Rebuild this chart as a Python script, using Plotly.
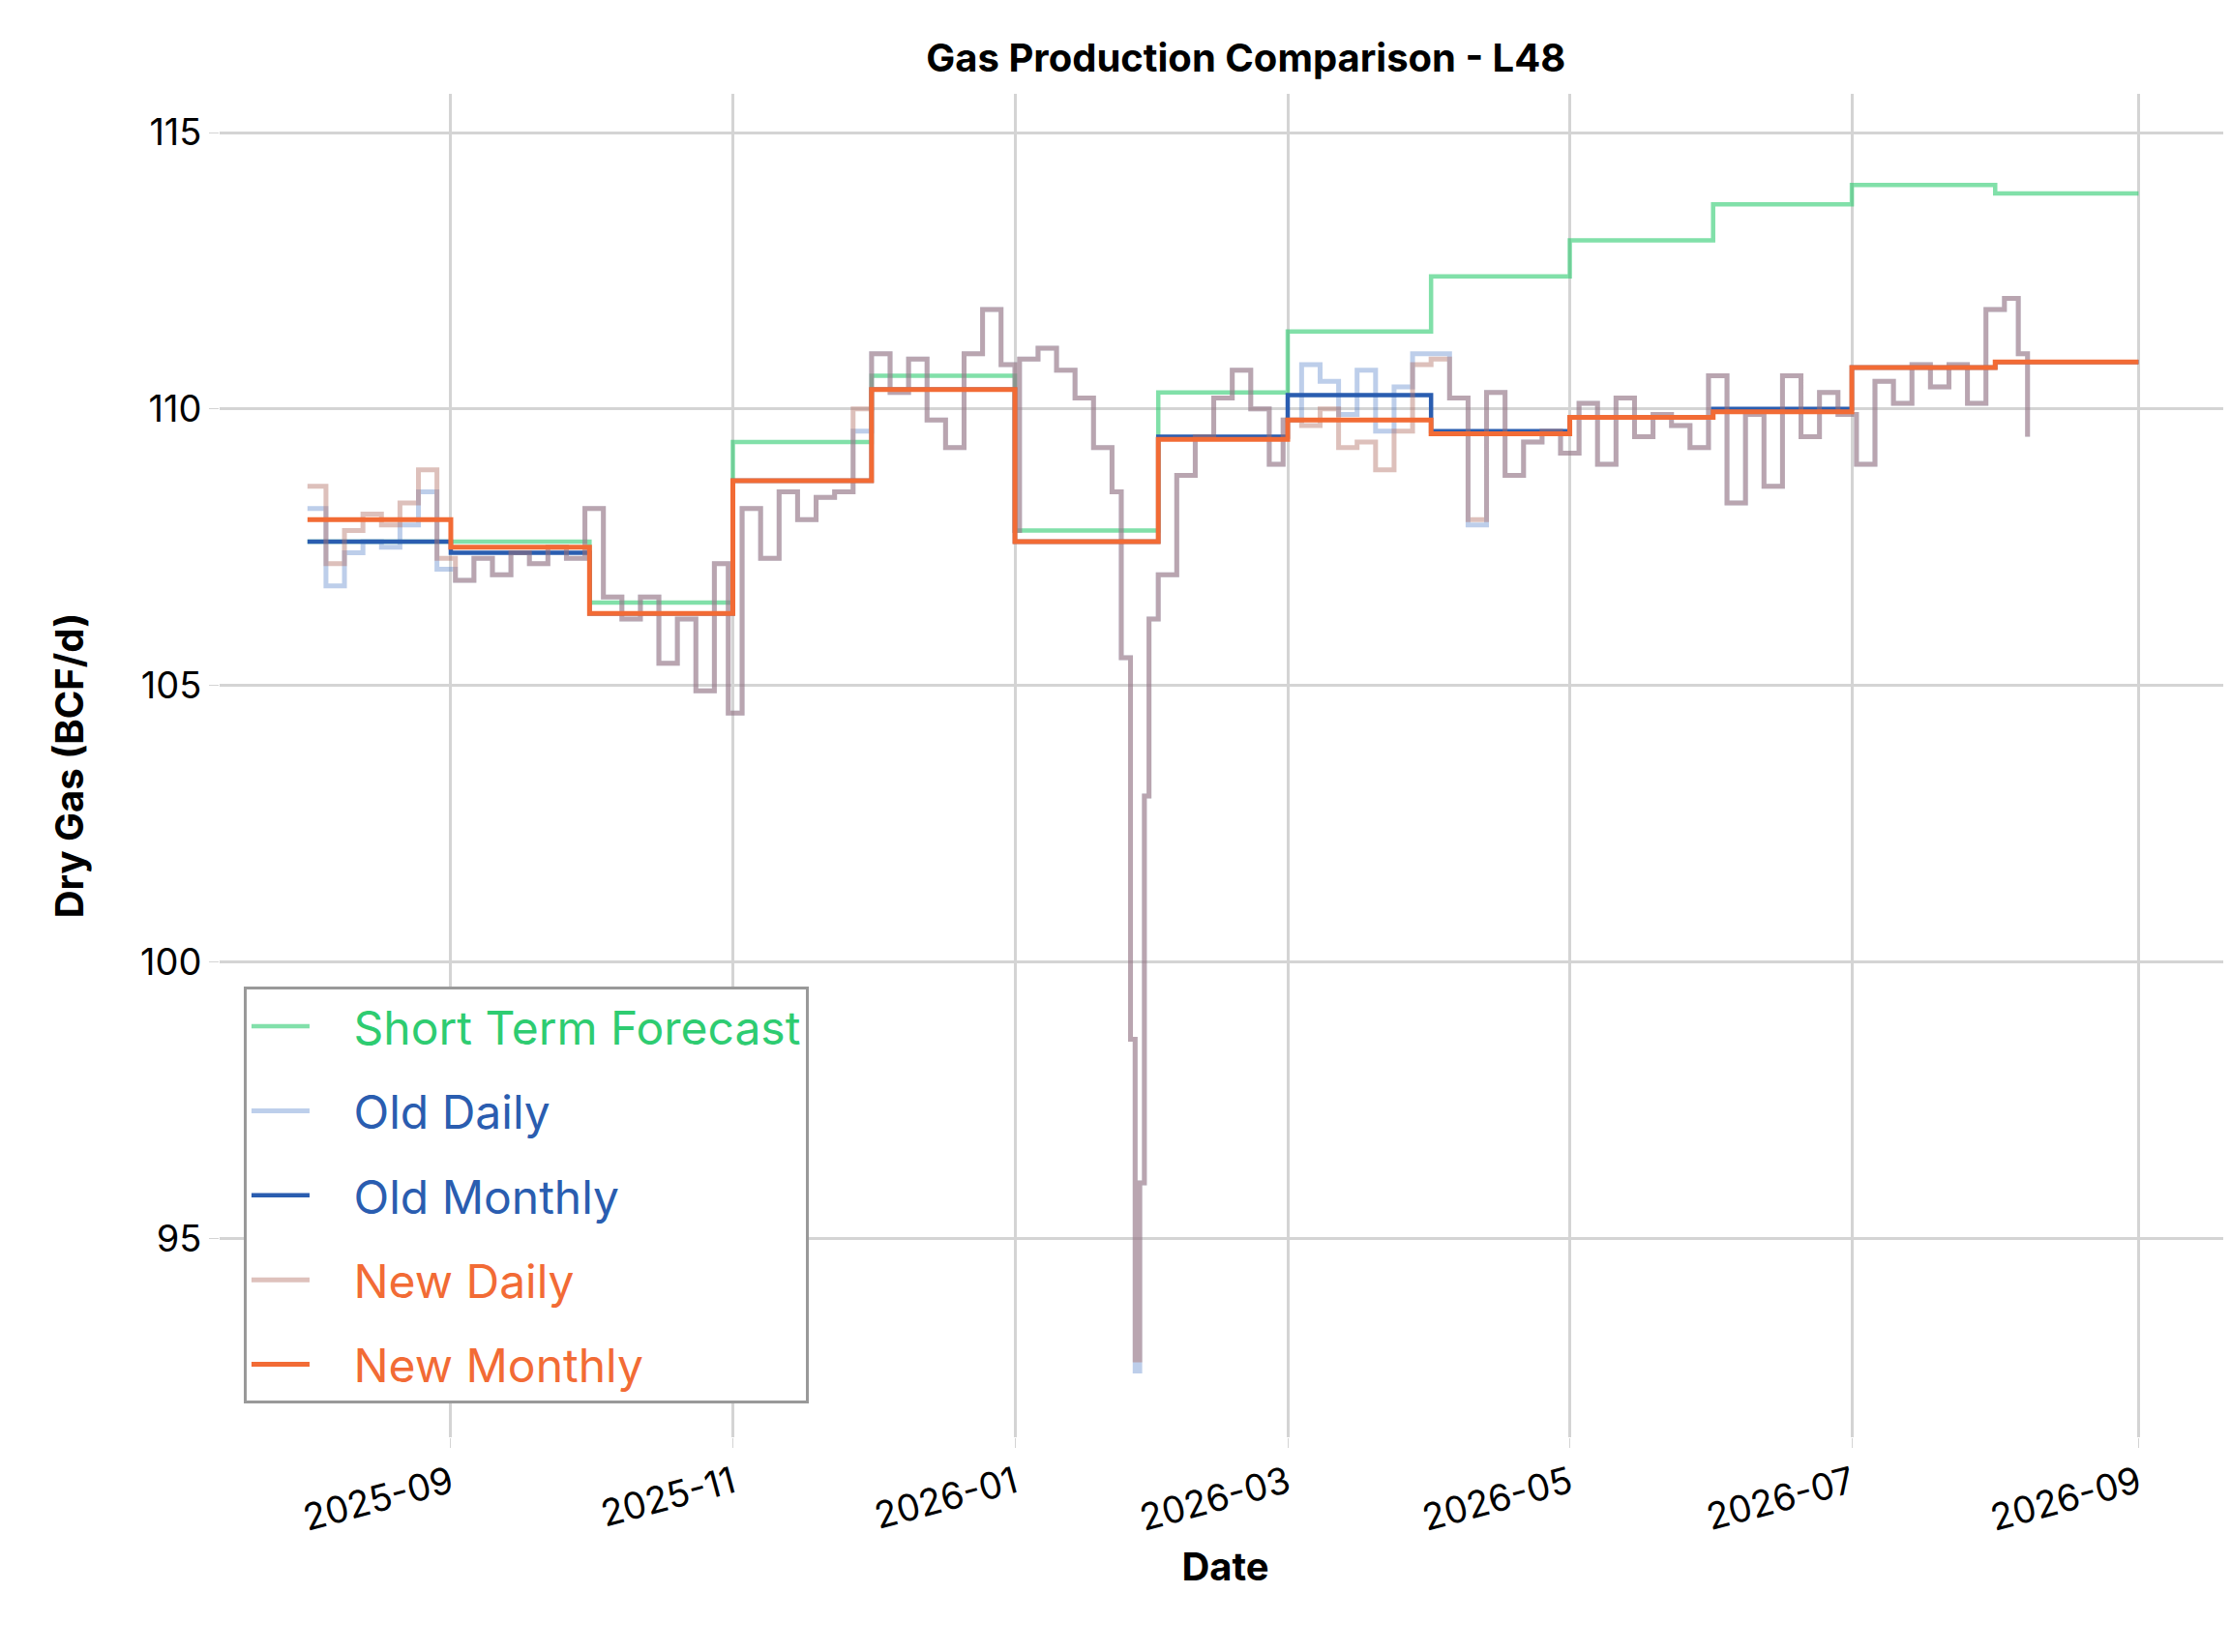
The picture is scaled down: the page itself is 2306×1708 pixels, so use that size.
import plotly.graph_objects as go

# monthly step series (value for each month start, last point repeats to Sep 1)
months = ["2025-08-01", "2025-09-01", "2025-10-01", "2025-11-01", "2025-12-01", "2026-01-01",
          "2026-02-01", "2026-03-01", "2026-04-01", "2026-05-01", "2026-06-01", "2026-07-01",
          "2026-08-01", "2026-09-01"]
stf = [107.6, 107.6, 106.5, 109.4, 110.6, 107.8, 110.3, 111.4, 112.4, 113.05, 113.7, 114.05, 113.9, 113.9]
old_monthly = [107.6, 107.4, 106.3, 108.7, 110.35, 107.6, 109.5, 110.25, 109.6, 109.85, 110.0, 110.75, 110.85, 110.85]
new_monthly = [108.0, 107.5, 106.3, 108.7, 110.35, 107.6, 109.45, 109.8, 109.55, 109.85, 109.95, 110.75, 110.85, 110.85]

# daily series (values at irregular dates, held as steps)
daily_dates = ["2025-08-01", "2025-08-05", "2025-08-09", "2025-08-13", "2025-08-17", "2025-08-21",
               "2025-08-25", "2025-08-29", "2025-09-02", "2025-09-06", "2025-09-10", "2025-09-14",
               "2025-09-18", "2025-09-22", "2025-09-26", "2025-09-30", "2025-10-04", "2025-10-08",
               "2025-10-12", "2025-10-16", "2025-10-20", "2025-10-24", "2025-10-28", "2025-10-31",
               "2025-11-03", "2025-11-07", "2025-11-11", "2025-11-15", "2025-11-19", "2025-11-23",
               "2025-11-27", "2025-12-01", "2025-12-05", "2025-12-09", "2025-12-13", "2025-12-17",
               "2025-12-21", "2025-12-25", "2025-12-29", "2026-01-01", "2026-01-02", "2026-01-06",
               "2026-01-10", "2026-01-14", "2026-01-18", "2026-01-22", "2026-01-24", "2026-01-26",
               "2026-01-27", "2026-01-28", "2026-01-29", "2026-01-30", "2026-02-01", "2026-02-05",
               "2026-02-09", "2026-02-13", "2026-02-17", "2026-02-21", "2026-02-25", "2026-02-28",
               "2026-03-04", "2026-03-08", "2026-03-12", "2026-03-16", "2026-03-20", "2026-03-24",
               "2026-03-28", "2026-04-01", "2026-04-05", "2026-04-09", "2026-04-13", "2026-04-17",
               "2026-04-21", "2026-04-25", "2026-04-29", "2026-05-03", "2026-05-07", "2026-05-11",
               "2026-05-15", "2026-05-19", "2026-05-23", "2026-05-27", "2026-05-31", "2026-06-04",
               "2026-06-08", "2026-06-12", "2026-06-16", "2026-06-20", "2026-06-24", "2026-06-28",
               "2026-07-02", "2026-07-06", "2026-07-10", "2026-07-14", "2026-07-18", "2026-07-22",
               "2026-07-26", "2026-07-30", "2026-08-03", "2026-08-06", "2026-08-08"]
new_daily = [108.6, 107.2, 107.8, 108.1, 107.9, 108.3, 108.9, 107.3, 106.9, 107.3, 107.0, 107.4,
             107.2, 107.5, 107.3, 108.2, 106.6, 106.2, 106.6, 105.4, 106.2, 104.9, 107.2, 104.5,
             108.2, 107.3, 108.5, 108.0, 108.4, 108.5, 110.0, 111.0, 110.3, 110.9, 109.8, 109.3,
             111.0, 111.8, 110.8, 107.8, 110.9, 111.1, 110.7, 110.2, 109.3, 108.5, 105.5, 98.6,
             92.8, 96.0, 103.0, 106.2, 107.0, 108.8, 109.5, 110.2, 110.7, 110.0, 109.0, 109.8,
             109.7, 110.0, 109.3, 109.4, 108.9, 109.6, 110.8, 110.9, 110.2, 108.0, 110.3, 108.8,
             109.4, 109.6, 109.2, 110.1, 109.0, 110.2, 109.5, 109.9, 109.7, 109.3, 110.6, 108.3,
             109.9, 108.6, 110.6, 109.5, 110.3, 109.9, 109.0, 110.5, 110.1, 110.8, 110.4, 110.8,
             110.1, 111.8, 112.0, 111.0, 109.5]
old_daily = [108.2, 106.8, 107.4, 107.6, 107.5, 107.9, 108.5, 107.1, 106.9, 107.3, 107.0, 107.4,
             107.2, 107.5, 107.3, 108.2, 106.6, 106.2, 106.6, 105.4, 106.2, 104.9, 107.2, 104.5,
             108.2, 107.3, 108.5, 108.0, 108.4, 108.5, 109.6, 111.0, 110.3, 110.9, 109.8, 109.3,
             111.0, 111.8, 110.8, 107.8, 110.9, 111.1, 110.7, 110.2, 109.3, 108.5, 105.5, 98.6,
             92.6, 96.0, 103.0, 106.2, 107.0, 108.8, 109.5, 110.2, 110.7, 110.0, 109.0, 109.8,
             110.8, 110.5, 109.9, 110.7, 109.6, 110.4, 111.0, 111.0, 110.2, 107.9, 110.3, 108.8,
             109.4, 109.6, 109.2, 110.1, 109.0, 110.2, 109.5, 109.9, 109.7, 109.3, 110.6, 108.3,
             109.9, 108.6, 110.6, 109.5, 110.3, 109.9, 109.0, 110.5, 110.1, 110.8, 110.4, 110.8,
             110.1, 111.8, 112.0, 111.0, 109.5]

fig = go.Figure()
fig.add_trace(go.Scatter(x=months, y=stf, mode="lines", line_shape="hv", name="   Short Term Forecast",
                         line=dict(color="#2ecc71", width=4.5), opacity=0.6))
fig.add_trace(go.Scatter(x=daily_dates, y=old_daily, mode="lines", line_shape="hv", name="   Old Daily",
                         line=dict(color="#5b86cc", width=5), opacity=0.4))
fig.add_trace(go.Scatter(x=months, y=old_monthly, mode="lines", line_shape="hv", name="   Old Monthly",
                         line=dict(color="#2a5db0", width=4.5)))
fig.add_trace(go.Scatter(x=daily_dates, y=new_daily, mode="lines", line_shape="hv", name="   New Daily",
                         line=dict(color="#b5756a", width=5), opacity=0.45))
fig.add_trace(go.Scatter(x=months, y=new_monthly, mode="lines", line_shape="hv", name="   New Monthly",
                         line=dict(color="#f26b35", width=5)))

legend_colors = ["#2ecc71", "#2a5db0", "#2a5db0", "#f26b35", "#f26b35"]
for tr in fig.data:
    tr.legendgroup = tr.name

fig.update_layout(
    width=2306, height=1708,
    paper_bgcolor="white", plot_bgcolor="white",
    font=dict(family="Inter, Open Sans, sans-serif", size=38, color="black"),
    margin=dict(l=219, r=8, t=89, b=230),
    title=dict(text="<b>Gas Production Comparison - L48</b>", x=0.555, xanchor="center",
               y=0.978, font=dict(size=40)),
    showlegend=True,
    legend=dict(x=0.012, y=0.025, xanchor="left", yanchor="bottom", bgcolor="white",
                bordercolor="#999999", borderwidth=3, font=dict(size=48),
                tracegroupgap=22, itemwidth=60),
)
fig.update_xaxes(range=["2025-07-13", "2026-09-21"], showgrid=True, gridcolor="#d4d4d4", gridwidth=3,
                 dtick="M2", tick0="2025-09-01", tickformat="%Y-%m", tickangle=-15, showline=False,
                 zeroline=False, ticks="outside", ticklen=10, tickcolor="#d4d4d4",
                 title=dict(text="<b>Date</b>", font=dict(size=40)))
fig.update_yaxes(range=[91.4, 115.7], showgrid=True, gridcolor="#d4d4d4", gridwidth=3,
                 tickvals=[95, 100, 105, 110, 115], showline=False, zeroline=False,
                 ticks="outside", ticklen=10, tickcolor="#d4d4d4",
                 title=dict(text="<b>Dry Gas (BCF/d)</b>", font=dict(size=40), standoff=45))
fig.write_html("out.html")

# colour legend texts like their series
html = open("out.html").read()
js = ("<script>window.addEventListener('load',function(){var cs=%s;"
      "var t=document.querySelectorAll('.legendtext');t.forEach(function(e,i){e.style.fill=cs[i];});});</script>"
      % str(legend_colors).replace("'", '"'))
html = html.replace("</body>", js + "</body>")
open("out.html", "w").write(html)
